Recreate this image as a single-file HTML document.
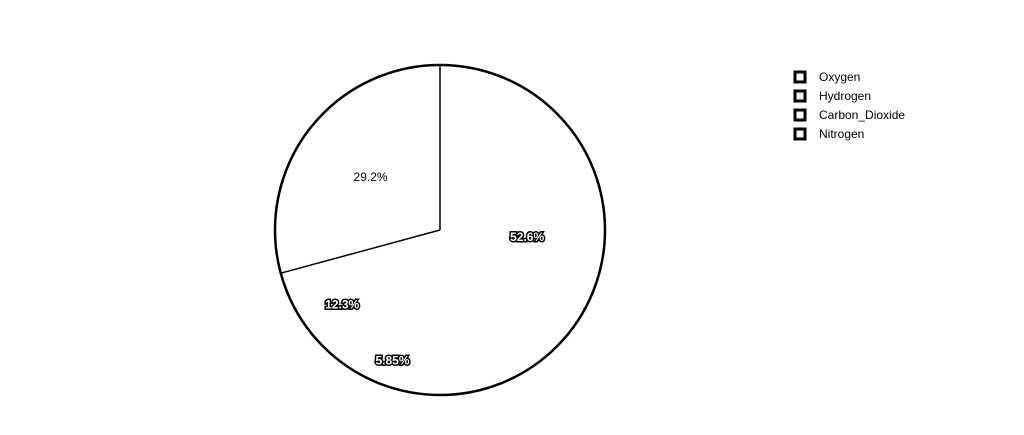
<!DOCTYPE html>
<html><head><meta charset="utf-8"><style>
html,body{margin:0;padding:0;background:#fff;width:1024px;height:435px;overflow:hidden}
svg{display:block}
text{font-family:"Liberation Sans",sans-serif;font-size:12px}
</style></head><body>
<svg id="chart" width="1024" height="435">
<g id="slices"></g>
<g id="labels"></g>
<g id="legend"></g>
</svg>
<script>
const categories = ["Oxygen","Nitrogen","Carbon_Dioxide","Hydrogen"];
const values = [52.6, 5.85, 12.3, 29.2];
const legendOrder = ["Oxygen","Hydrogen","Carbon_Dioxide","Nitrogen"];
const valueLabels = ["52.6%","5.85%","12.3%","29.2%"];
const darkLabel = [true,true,true,false];

const NS="http://www.w3.org/2000/svg";
const cx=440, cy=230, R=165;
const total=values.reduce((a,b)=>a+b,0);
function pt(a,r){return [cx+r*Math.sin(a), cy-r*Math.cos(a)];}
const gS=document.getElementById('slices'), gL=document.getElementById('labels'), gLeg=document.getElementById('legend');
let acc=0;
values.forEach((v,i)=>{
  const a0=acc/total*2*Math.PI; acc+=v; const a1=acc/total*2*Math.PI;
  const p0=pt(a0,R), p1=pt(a1,R);
  const large=(a1-a0)>Math.PI?1:0;
  const path=document.createElementNS(NS,'path');
  path.setAttribute('d',`M${cx},${cy}L${p0[0]},${p0[1]}A${R},${R} 0 ${large} 1 ${p1[0]},${p1[1]}Z`);
  path.setAttribute('fill','#fff');
  path.setAttribute('stroke','none');
  
  
  gS.appendChild(path);
  const frac=v/total, am=(a0+a1)/2, lp=pt(am,R*Math.max(0.53,0.93-1.5*frac));
  const t=document.createElementNS(NS,'text');
  t.setAttribute('x',lp[0]); t.setAttribute('y',lp[1]+4);
  t.setAttribute('text-anchor','middle');
  if(darkLabel[i]){t.setAttribute('fill','#fff');t.setAttribute('stroke','#000');t.setAttribute('stroke-width','3');t.setAttribute('paint-order','stroke');t.setAttribute('font-weight','bold');}
  else t.setAttribute('fill','#000');
  t.textContent=valueLabels[i];
  
  
  gL.appendChild(t);
});
const last=values[values.length-1];
const aStart=(total-last)/total*2*Math.PI;
[0,aStart].forEach(a=>{
  const p=pt(a,R);
  const l=document.createElementNS(NS,'line');
  l.setAttribute('x1',cx);l.setAttribute('y1',cy);l.setAttribute('x2',p[0]);l.setAttribute('y2',p[1]);
  l.setAttribute('stroke','#000');l.setAttribute('stroke-width','1.5');
  
  
  gS.appendChild(l);
});
const c=document.createElementNS(NS,'circle');
c.setAttribute('cx',cx);c.setAttribute('cy',cy);c.setAttribute('r',R);
c.setAttribute('fill','none');c.setAttribute('stroke','#000');c.setAttribute('stroke-width','2.5');


gS.appendChild(c);
legendOrder.forEach((name,i)=>{
  const y=77+19*i;
  const g=document.createElementNS(NS,'g');
  
  
  const r=document.createElementNS(NS,'rect');
  r.setAttribute('x',795);r.setAttribute('y',y-5);r.setAttribute('width',10);r.setAttribute('height',10);
  r.setAttribute('fill','#fff');r.setAttribute('stroke','#000');r.setAttribute('stroke-width','3');
  g.appendChild(r);
  const t=document.createElementNS(NS,'text');
  t.setAttribute('x',819);t.setAttribute('y',y+4);t.setAttribute('fill','#000');
  t.textContent=name;
  g.appendChild(t);
  gLeg.appendChild(g);
});
</script>
</body></html>
